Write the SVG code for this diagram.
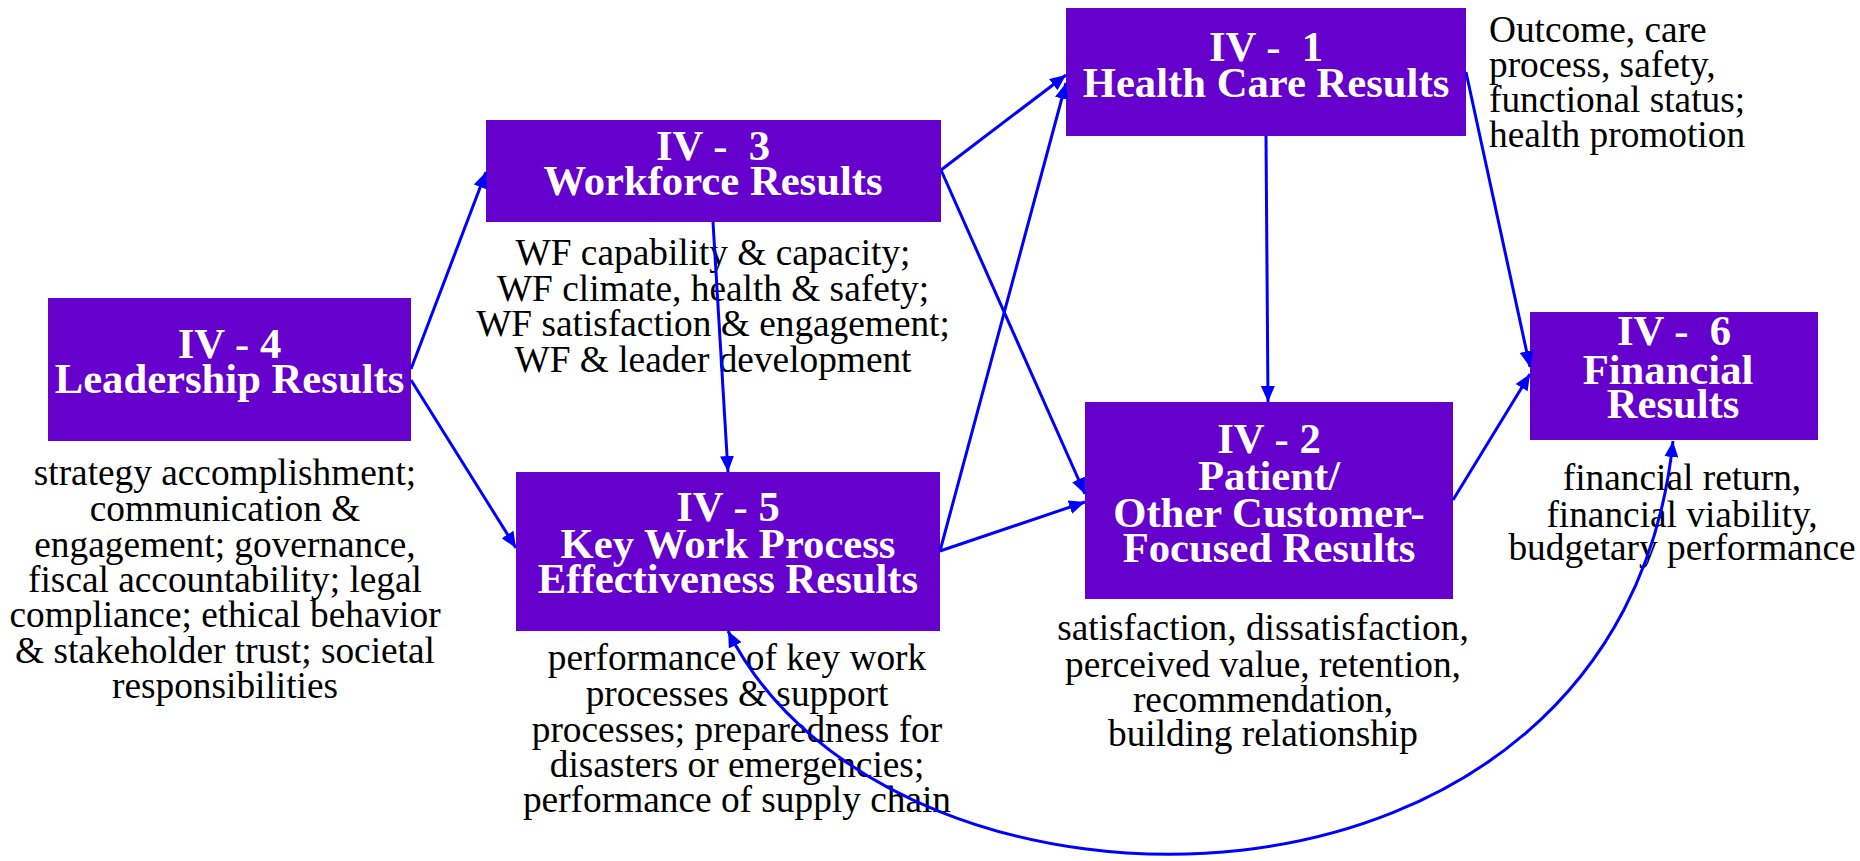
<svg xmlns="http://www.w3.org/2000/svg" width="1860" height="861" viewBox="0 0 1860 861">
<style>
.box{fill:#6600CC}
.t{font-family:"Liberation Serif","Times New Roman",serif;font-weight:bold;font-size:42.67px;fill:#FFFFFF;text-anchor:middle;white-space:pre}
.d{font-family:"Liberation Serif","Times New Roman",serif;font-size:37.33px;fill:#000000;text-anchor:middle}
.dl{font-family:"Liberation Serif","Times New Roman",serif;font-size:37.33px;fill:#000000;text-anchor:start}
.e{stroke:#0000FF;stroke-width:3;fill:none;marker-end:url(#ah)}
</style>
<defs>
<marker id="ah" markerUnits="userSpaceOnUse" markerWidth="16" markerHeight="14" refX="16" refY="7" orient="auto-start-reverse" viewBox="0 0 16 14">
<path d="M0,0 L16,7 L0,14 z" fill="#0000FF"/>
</marker>
</defs>
<rect width="1860" height="861" fill="#FFFFFF"/>

<g id="node-iv4">
<rect class="box" x="48" y="298" width="363" height="143"/>
<text class="t" x="229.5" y="358" xml:space="preserve">IV - 4</text>
<text class="t" x="229.5" y="393">Leadership Results</text>
<text class="d" x="225" y="485">strategy accomplishment;</text>
<text class="d" x="225" y="521">communication &amp;</text>
<text class="d" x="225" y="556.5">engagement; governance,</text>
<text class="d" x="225" y="592">fiscal accountability; legal</text>
<text class="d" x="225" y="627">compliance; ethical behavior</text>
<text class="d" x="225" y="662.5">&amp; stakeholder trust; societal</text>
<text class="d" x="225" y="698">responsibilities</text>
</g>

<g id="node-iv3">
<rect class="box" x="486" y="120" width="455" height="102"/>
<text class="t" x="713" y="160" xml:space="preserve">IV -  3</text>
<text class="t" x="713" y="195">Workforce Results</text>
<text class="d" x="713" y="265">WF capability &amp; capacity;</text>
<text class="d" x="713" y="300.5">WF climate, health &amp; safety;</text>
<text class="d" x="713" y="336">WF satisfaction &amp; engagement;</text>
<text class="d" x="713" y="371.5">WF &amp; leader development</text>
</g>

<g id="node-iv5">
<rect class="box" x="516" y="472" width="424" height="159"/>
<text class="t" x="728" y="521" xml:space="preserve">IV - 5</text>
<text class="t" x="728" y="558">Key Work Process</text>
<text class="t" x="728" y="593">Effectiveness Results</text>
<text class="d" x="737" y="670">performance of key work</text>
<text class="d" x="737" y="706">processes &amp; support</text>
<text class="d" x="737" y="741.5">processes; preparedness for</text>
<text class="d" x="737" y="777">disasters or emergencies;</text>
<text class="d" x="737" y="812">performance of supply chain</text>
</g>

<g id="node-iv1">
<rect class="box" x="1066" y="8" width="400" height="128"/>
<text class="t" x="1266" y="61" xml:space="preserve">IV -  1</text>
<text class="t" x="1266" y="96.5">Health Care Results</text>
<text class="dl" x="1489" y="41.5">Outcome, care</text>
<text class="dl" x="1489" y="76.5">process, safety,</text>
<text class="dl" x="1489" y="111.5">functional status;</text>
<text class="dl" x="1489" y="146.5">health promotion</text>
</g>

<g id="node-iv2">
<rect class="box" x="1085" y="402" width="368" height="197"/>
<text class="t" x="1269" y="453" xml:space="preserve">IV - 2</text>
<text class="t" x="1269" y="490">Patient/</text>
<text class="t" x="1269" y="526.5">Other Customer-</text>
<text class="t" x="1269" y="561.5">Focused Results</text>
<text class="d" x="1263" y="640">satisfaction, dissatisfaction,</text>
<text class="d" x="1263" y="676.5">perceived value, retention,</text>
<text class="d" x="1263" y="712">recommendation,</text>
<text class="d" x="1263" y="746">building relationship</text>
</g>

<g id="node-iv6">
<rect class="box" x="1530" y="312" width="288" height="128"/>
<text class="t" x="1674" y="345" xml:space="preserve">IV -  6</text>
<text class="t" x="1668" y="384">Financial</text>
<text class="t" x="1673" y="418">Results</text>
<text class="d" x="1682" y="490">financial return,</text>
<text class="d" x="1682" y="526.5">financial viability,</text>
<text class="d" x="1682" y="560">budgetary performance</text>
</g>

<g id="connectors">
<path class="e" d="M411,369 L486,172"/>
<path class="e" d="M411,380 L516,548"/>
<path class="e" d="M713,222 L728,472"/>
<path class="e" d="M941,170 L1066,75"/>
<path class="e" d="M941,170 L1085,494"/>
<path class="e" d="M940,551 L1066,83"/>
<path class="e" d="M940,551 L1085,502"/>
<path class="e" d="M1266,136 L1268,402"/>
<path class="e" d="M1466,72 L1530,367"/>
<path class="e" d="M1453,500 L1530,374"/>
<path class="e" style="marker-start:url(#ah)" d="M728,631 C890,955 1620,955 1673,441"/>
</g>
</svg>
